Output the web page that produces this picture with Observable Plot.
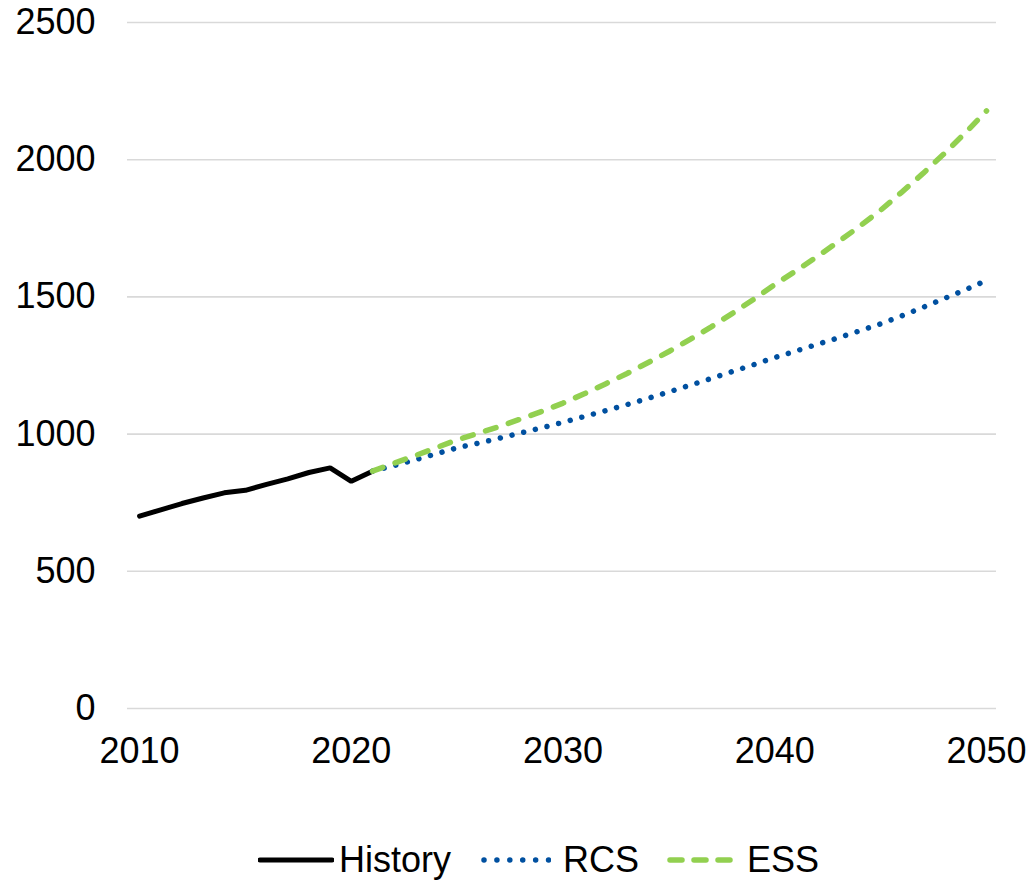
<!DOCTYPE html>
<html>
<head>
<meta charset="utf-8">
<script src="https://cdn.jsdelivr.net/npm/d3@7"></script>
<script src="https://cdn.jsdelivr.net/npm/@observablehq/plot@0.6"></script>
<style>
  html, body { margin: 0; padding: 0; background: #fff; }
  body { width: 1028px; height: 880px; overflow: hidden; font-family: "Liberation Sans", Arial, sans-serif; }
  #chart svg { display: block; }
  #legend { display: flex; align-items: center; height: 40px; line-height: 40px; font-size: 36px; color: #000; padding-left: 258px; }
  #legend .item { display: flex; align-items: center; }
  #legend svg { display: block; }
</style>
</head>
<body>
<div id="chart"></div>
<div id="legend"></div>
<script>
// ---- data ----
const historyYears = [2010, 2011, 2012, 2013, 2014, 2015, 2016, 2017, 2018, 2019, 2020, 2021];
const historyValues = [701, 724, 747, 767, 786, 795, 817, 837, 860, 877, 828, 865];

const projYears = [2021, 2022, 2023, 2024, 2025, 2026, 2027, 2028, 2029, 2030,
                   2031, 2032, 2033, 2034, 2035, 2036, 2037, 2038, 2039, 2040,
                   2041, 2042, 2043, 2044, 2045, 2046, 2047, 2048, 2049, 2050];
const rcsValues = [865, 885, 906, 928, 950, 967, 985, 1004, 1023, 1043,
                   1064, 1085, 1107, 1130, 1154, 1178, 1203, 1228, 1253, 1279,
                   1303, 1327, 1351, 1376, 1402, 1431, 1462, 1494, 1526, 1560];
const essValues = [865, 893, 921, 950, 979, 1003, 1028, 1055, 1083, 1113,
                   1147, 1183, 1220, 1260, 1301, 1345, 1391, 1440, 1491, 1545,
                   1595, 1647, 1701, 1757, 1816, 1882, 1950, 2022, 2098, 2178];

const xTicks = [2010, 2020, 2030, 2040, 2050];
const yTicks = [0, 500, 1000, 1500, 2000, 2500];
const seriesNames = ["History", "RCS", "ESS"];

// ---- tables ----
const historyData = historyYears.map((y, i) => ({year: y, value: historyValues[i]}));
const rcsData = projYears.map((y, i) => ({year: y, value: rcsValues[i]}));
const essData = projYears.map((y, i) => ({year: y, value: essValues[i]}));

const colors = {History: "#000000", RCS: "#0050A0", ESS: "#92D050"};

const chart = Plot.plot({
  width: 1028,
  height: 840,
  marginTop: 22,
  marginBottom: 132,
  marginLeft: 127,
  marginRight: 32,
  style: {fontFamily: "'Liberation Sans', Arial, sans-serif", fontSize: "36px", color: "#000", background: "#fff"},
  x: {domain: [2009.43, 2050.47], ticks: xTicks, tickFormat: d => String(d), tickSize: 0, tickPadding: 29, label: null},
  y: {domain: [0, 2500], ticks: yTicks, tickFormat: d => String(d), tickSize: 0, tickPadding: 32, label: null},
  marks: [
    Plot.ruleY(yTicks, {stroke: "#d9d9d9", strokeWidth: 1.6}),
    Plot.axisX({ticks: xTicks, tickFormat: d => String(d), tickSize: 0, tickPadding: 29, label: null, fontSize: 36}),
    Plot.axisY({ticks: yTicks, tickFormat: d => String(d), tickSize: 0, tickPadding: 32, label: null, fontSize: 36}),
    Plot.line(historyData, {x: "year", y: "value", stroke: colors.History, strokeWidth: 5, strokeLinejoin: "miter", strokeLinecap: "round"}),
    Plot.line(rcsData, {x: "year", y: "value", stroke: colors.RCS, strokeWidth: 5.5, strokeDasharray: "0.01 12", strokeLinecap: "round"}),
    Plot.line(essData, {x: "year", y: "value", stroke: colors.ESS, strokeWidth: 5.5, strokeDasharray: "11 13", strokeLinecap: "round"})
  ]
});
document.getElementById("chart").appendChild(chart);

// ---- legend ----
const legend = d3.select("#legend");
const swatches = {
  History: {w: 76, gapAfter: 5, draw: s => s.append("line").attr("x1", 2).attr("x2", 74).attr("y1", 20).attr("y2", 20)
            .attr("stroke", colors.History).attr("stroke-width", 5).attr("stroke-linecap", "round")},
  RCS: {w: 70, gapAfter: 12, draw: s => s.append("line").attr("x1", 3).attr("x2", 68).attr("y1", 20).attr("y2", 20)
            .attr("stroke", colors.RCS).attr("stroke-width", 5.5).attr("stroke-dasharray", "0.01 12.9").attr("stroke-linecap", "round")},
  ESS: {w: 70, gapAfter: 10, draw: s => s.append("line").attr("x1", 3).attr("x2", 68).attr("y1", 20).attr("y2", 20)
            .attr("stroke", colors.ESS).attr("stroke-width", 5.5).attr("stroke-dasharray", "12 12").attr("stroke-linecap", "round")}
};
const leftPad = {History: 0, RCS: 30, ESS: 28};
seriesNames.forEach(name => {
  const item = legend.append("div").attr("class", "item").style("margin-left", leftPad[name] + "px");
  const sw = item.append("svg").attr("width", swatches[name].w).attr("height", 40);
  swatches[name].draw(sw);
  item.append("span").style("margin-left", swatches[name].gapAfter + "px").text(name);
});
</script>
</body>
</html>
